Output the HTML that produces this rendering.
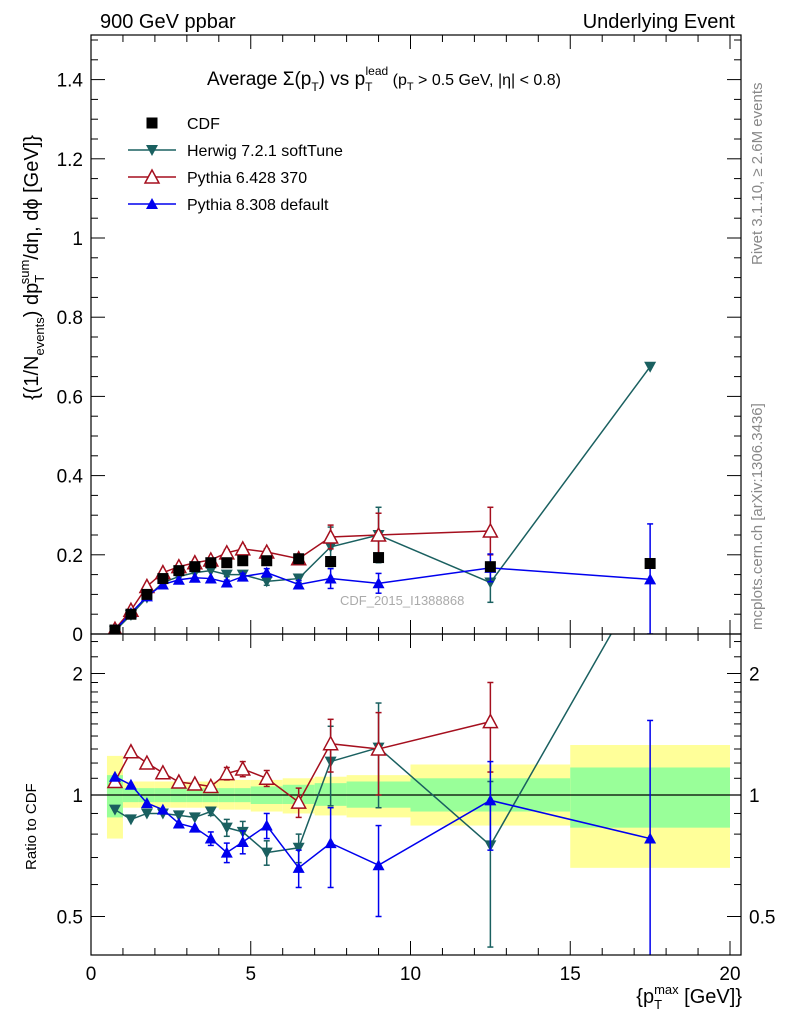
<!DOCTYPE html>
<html><head><meta charset="utf-8"><style>
html,body{margin:0;background:#fff;overflow:hidden;width:786px;height:1024px;}
svg{display:block;font-family:"Liberation Sans",sans-serif;}
</style></head><body>
<svg id="c" width="786" height="1024">
<text x="100" y="28" font-size="20">900 GeV ppbar</text>
<text x="735" y="28" font-size="20" text-anchor="end">Underlying Event</text>
<text x="207" y="85" font-size="19">Average Σ(p<tspan font-size="12" dy="6">T</tspan><tspan dy="-6">) vs p</tspan><tspan font-size="12" dy="6">T</tspan><tspan font-size="12" dx="-7" dy="-16">lead</tspan><tspan dy="10" font-size="16"> (p</tspan><tspan font-size="11" dy="5">T</tspan><tspan font-size="16" dy="-5"> &gt; 0.5 GeV, |η| &lt; 0.8)</tspan></text>
<text transform="translate(762,265) rotate(-90)" font-size="15" fill="#888">Rivet 3.1.10, ≥ 2.6M events</text>
<text transform="translate(762,630) rotate(-90)" font-size="15" fill="#888">mcplots.cern.ch [arXiv:1306.3436]</text>
<text transform="translate(38,400) rotate(-90)" font-size="20">{(1/N<tspan font-size="13" dy="6">events</tspan><tspan dy="-6">) dp</tspan><tspan font-size="13" dy="6">T</tspan><tspan font-size="13" dx="-8" dy="-15">sum</tspan><tspan dy="9">/dη, dϕ [GeV]}</tspan></text>
<text transform="translate(36,870) rotate(-90)" font-size="15">Ratio to CDF</text>
<text x="742" y="1003" font-size="20" text-anchor="end">{p<tspan font-size="13" dy="6">T</tspan><tspan font-size="13" dx="-8" dy="-15">max</tspan><tspan dy="9"> [GeV]}</tspan></text>
<text x="340" y="605" font-size="13" fill="#aaa">CDF_2015_I1388868</text>
<g id="g"></g>
</svg>
<script>
const xs=[0.75,1.25,1.75,2.25,2.75,3.25,3.75,4.25,4.75,5.5,6.5,7.5,9,12.5,17.5];
const binLo=[0.5,1,1.5,2,2.5,3,3.5,4,4.5,5,6,7,8,10,15];
const binHi=[1,1.5,2,2.5,3,3.5,4,4.5,5,6,7,8,10,15,20];
const cdf=[0.01,0.05,0.10,0.14,0.16,0.17,0.18,0.18,0.185,0.185,0.19,0.183,0.193,0.17,0.178];
const herwig=[0.008,0.048,0.092,0.13,0.145,0.155,0.16,0.15,0.15,0.133,0.14,0.22,0.25,0.13,0.675];
const herwigErr=[0,0,0,0,0,0,0,0.005,0.008,0.01,0.01,0.05,0.07,0.05,0];
const py6=[0.012,0.06,0.12,0.155,0.17,0.18,0.187,0.205,0.215,0.207,0.19,0.245,0.25,0.26];
const py6Err=[0,0,0,0,0,0,0,0.008,0.008,0.008,0.01,0.03,0.055,0.06];
const py8=[0.01,0.053,0.095,0.125,0.137,0.142,0.14,0.13,0.145,0.155,0.125,0.14,0.128,0.167,0.138];
const py8Err=[0,0,0,0,0,0,0,0.006,0.008,0.01,0.01,0.025,0.025,0.035,0.14];
const rHerwig=[0.92,0.87,0.90,0.90,0.89,0.88,0.91,0.83,0.81,0.72,0.74,1.21,1.31,0.75,3.7];
const rHerwigErr=[0,0,0,0,0,0,0.02,0.04,0.05,0.05,0.06,0.27,0.38,0.33,0];
const rPy6=[1.08,1.28,1.20,1.135,1.077,1.065,1.05,1.13,1.16,1.10,0.96,1.34,1.30,1.52];
const rPy6Err=[0,0,0,0,0,0,0,0.04,0.05,0.05,0.08,0.2,0.3,0.38];
const rPy8=[1.11,1.06,0.955,0.92,0.85,0.83,0.78,0.72,0.765,0.84,0.66,0.76,0.67,0.97,0.78];
const rPy8Err=[0,0,0,0,0,0,0.03,0.04,0.05,0.06,0.07,0.17,0.17,0.24,0.75];
const yelLo=[0.78,0.93,0.93,0.93,0.93,0.93,0.93,0.92,0.92,0.91,0.90,0.89,0.88,0.84,0.66];
const yelHi=[1.25,1.08,1.08,1.08,1.08,1.08,1.08,1.09,1.09,1.09,1.10,1.11,1.12,1.19,1.33];
const grnLo=[0.88,0.96,0.96,0.96,0.96,0.96,0.96,0.96,0.96,0.95,0.95,0.94,0.93,0.91,0.83];
const grnHi=[1.12,1.04,1.04,1.04,1.04,1.04,1.04,1.04,1.04,1.05,1.06,1.07,1.08,1.10,1.17];
const yTicks=[0,0.2,0.4,0.6,0.8,1,1.2,1.4];
const xTicks=[0,5,10,15,20];
const rTicks=[0.5,1,2];

const NS='http://www.w3.org/2000/svg';
const L=91,R=741,T=35,MB=634,B=955;
const X=v=>L+v*(730-91)/20;
const Y=v=>MB-v*396;
const RY=r=>795-Math.log2(r)*121.5;
const g=document.getElementById('g');
function el(t,a,p){const e=document.createElementNS(NS,t);for(const k in a)e.setAttribute(k,a[k]);(p||g).appendChild(e);return e;}

const defs=el('defs',{});
const c1=el('clipPath',{id:'cm'},defs);el('rect',{x:L,y:T,width:R-L,height:MB-T},c1);
const c2=el('clipPath',{id:'cr'},defs);el('rect',{x:L,y:MB,width:R-L,height:B-MB},c2);
const gm=el('g',{'clip-path':'url(#cm)'});
const gr=el('g',{'clip-path':'url(#cr)'});

for(let i=0;i<binLo.length;i++){
  const b=el('rect',{x:X(binLo[i]),y:RY(yelHi[i]),width:X(binHi[i])-X(binLo[i]),height:RY(yelLo[i])-RY(yelHi[i]),fill:'#ffff99'},gr);
  
  
  const b2=el('rect',{x:X(binLo[i]),y:RY(grnHi[i]),width:X(binHi[i])-X(binLo[i]),height:RY(grnLo[i])-RY(grnHi[i]),fill:'#99ff99'},gr);
  
  
}
el('line',{x1:L,x2:R,y1:RY(1),y2:RY(1),stroke:'#000','stroke-width':1.2},gr);

function marker(type,x,y,col,par){
  let m;
  if(type==='sq') m=el('rect',{x:x-5.5,y:y-5.5,width:11,height:11,fill:col},par);
  else if(type==='down') m=el('polygon',{points:`${x-6},${y-5} ${x+6},${y-5} ${x},${y+6}`,fill:col},par);
  else if(type==='up') m=el('polygon',{points:`${x-6},${y+5} ${x+6},${y+5} ${x},${y-6}`,fill:col},par);
  else m=el('polygon',{points:`${x-7},${y+6} ${x+7},${y+6} ${x},${y-7}`,fill:'#fff',stroke:col,'stroke-width':1.5},par);
  return m;
}
function series(name,vals,errs,col,type,par,fy){
  const pts=vals.map((v,i)=>X(xs[i])+','+fy(v)).join(' ');
  const pl=el('polyline',{points:pts,fill:'none',stroke:col,'stroke-width':1.5},par);
  
  
  vals.forEach((v,i)=>{
    const e=errs?errs[i]:0;
    if(e>0){
      const lo=fy===Y?Math.max(v-e,0):Math.max(v-e,0.39);
      el('line',{x1:X(xs[i]),x2:X(xs[i]),y1:fy(v+e),y2:fy(lo),stroke:col,'stroke-width':1.5},par);
      el('line',{x1:X(xs[i])-3,x2:X(xs[i])+3,y1:fy(v+e),y2:fy(v+e),stroke:col,'stroke-width':1.5},par);
      el('line',{x1:X(xs[i])-3,x2:X(xs[i])+3,y1:fy(lo),y2:fy(lo),stroke:col,'stroke-width':1.5},par);
    }
    const m=marker(type,X(xs[i]),fy(v),col,par);
    
    
  });
}
series('herwig',herwig,herwigErr,'#1a6060','down',gm,Y);
series('pythia6',py6,py6Err,'#a50f1e','open',gm,Y);
series('pythia8',py8,py8Err,'#0000ee','up',gm,Y);
cdf.forEach((v,i)=>{const m=marker('sq',X(xs[i]),Y(v),'#000',gm);
  
  });
series('herwig-ratio',rHerwig,rHerwigErr,'#1a6060','down',gr,RY);
series('pythia6-ratio',rPy6,rPy6Err,'#a50f1e','open',gr,RY);
series('pythia8-ratio',rPy8,rPy8Err,'#0000ee','up',gr,RY);

el('rect',{x:L,y:T,width:R-L,height:MB-T,fill:'none',stroke:'#000','stroke-width':1.2});
el('rect',{x:L,y:MB,width:R-L,height:B-MB,fill:'none',stroke:'#000','stroke-width':1.2});
yTicks.forEach(v=>{
  el('line',{x1:L,x2:L+14,y1:Y(v),y2:Y(v),stroke:'#000'});
  el('line',{x1:R,x2:R-14,y1:Y(v),y2:Y(v),stroke:'#000'});
  const t=el('text',{x:L-8,y:Y(v)+7,'font-size':19,'text-anchor':'end'});t.textContent=String(v);
  
  
});
for(let v=0.05;v<1.52;v+=0.05){if(Math.abs(v/0.2-Math.round(v/0.2))<0.01)continue;
  el('line',{x1:L,x2:L+7,y1:Y(v),y2:Y(v),stroke:'#000'});el('line',{x1:R,x2:R-7,y1:Y(v),y2:Y(v),stroke:'#000'});}
xTicks.forEach(v=>{
  [[MB,MB-14],[B,B-14],[MB,MB+14],[T,T+14]].forEach(p=>el('line',{x1:X(v),x2:X(v),y1:p[0],y2:p[1],stroke:'#000'}));
  const t=el('text',{x:X(v),y:980,'font-size':19,'text-anchor':'middle'});t.textContent=String(v);
  
  
});
for(let v=1;v<20.5;v++){if(v%5===0)continue;
  [[MB,MB-7],[B,B-7],[MB,MB+7],[T,T+7]].forEach(p=>el('line',{x1:X(v),x2:X(v),y1:p[0],y2:p[1],stroke:'#000'}));}
rTicks.forEach(v=>{
  el('line',{x1:L,x2:L+14,y1:RY(v),y2:RY(v),stroke:'#000'});el('line',{x1:R,x2:R-14,y1:RY(v),y2:RY(v),stroke:'#000'});
  const t=el('text',{x:L-8,y:RY(v)+7,'font-size':19,'text-anchor':'end'});t.textContent=String(v);
  
  
  const t2=el('text',{x:R+8,y:RY(v)+7,'font-size':19});t2.textContent=String(v);
  
  
});
[0.5,0.6,0.7,0.8,0.9,1.1,1.2,1.3,1.4,1.5,1.6,1.7,1.8,1.9,2.2,2.4].forEach(v=>{
  el('line',{x1:L,x2:L+7,y1:RY(v),y2:RY(v),stroke:'#000'});el('line',{x1:R,x2:R-7,y1:RY(v),y2:RY(v),stroke:'#000'});});

const leg=[['CDF','sq','#000'],['Herwig 7.2.1 softTune','down','#1a6060'],['Pythia 6.428 370','open','#a50f1e'],['Pythia 8.308 default','up','#0000ee']];
leg.forEach((l,i)=>{
  const y=123+i*27;
  if(i>0) el('line',{x1:128,x2:176,y1:y,y2:y,stroke:l[2],'stroke-width':1.5});
  marker(l[1],152,y,l[2]);
  const t=el('text',{x:187,y:y+6,'font-size':16});t.textContent=l[0];
  
  
});
</script>
</body></html>
